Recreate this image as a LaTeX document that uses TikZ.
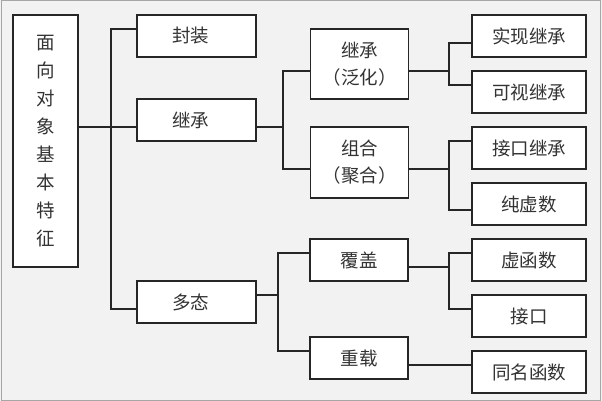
\documentclass[tikz,border=0pt]{standalone}
\usepackage{fontspec}
\newfontfamily\cjk{Noto Sans CJK SC}
\begin{document}
\begin{tikzpicture}[x=1pt,y=-1pt,
  box/.style={draw=black!85, line width=1.3pt, fill=white, inner sep=0pt,
    font=\cjk\fontsize{18.5}{27}\selectfont, align=center, text=black!80},
  wide/.style={box, minimum width=119pt, minimum height=42pt},
  mid/.style={box, minimum width=98pt},
  rgt/.style={box, minimum width=114pt, minimum height=42pt},
  conn/.style={draw=black!85, line width=1.1pt}]
\useasboundingbox (0,0) rectangle (602,401);
\fill[gray!10] (0,0) rectangle (602,401);
\draw[gray!70, line width=1pt] (1.5,1) rectangle (600,400);

\node[box, minimum width=65pt, minimum height=252pt,
  font=\cjk\fontsize{18.5}{28.1}\selectfont] (main) at (45.5,141)
  {面\\向\\对\\象\\基\\本\\特\\征};

\node[wide] (fz) at (196.5,36) {封装\hspace{12pt}};
\node[wide] (jc) at (196.5,120) {继承\hspace{12pt}};
\node[wide] (dt) at (196.5,302) {多态\hspace{12pt}};

\node[mid, minimum height=70pt] (fh) at (359.5,64) {继承\\（泛化）};
\node[mid, minimum height=71pt] (zh) at (359.5,162.5) {组合\\（聚合）};
\node[mid, minimum height=42pt] (fg) at (359,260) {覆盖};
\node[mid, minimum height=42pt] (cz) at (359,358) {重载};

\node[rgt] (r1) at (529,36) {实现继承};
\node[rgt] (r2) at (529,92) {可视继承};
\node[rgt] (r3) at (529,148) {接口继承};
\node[rgt] (r4) at (529,204) {纯虚数};
\node[rgt] (r5) at (529,260) {虚函数};
\node[rgt] (r6) at (529,316) {接口};
\node[rgt] (r7) at (529,372) {同名函数};

\coordinate (k0) at (111,127);
\coordinate (k1) at (111,29);
\coordinate (k2) at (111,309);
\coordinate (m1) at (283,71);
\coordinate (m2) at (283,169);
\coordinate (n1) at (449,43);
\coordinate (n2) at (449,85);
\coordinate (n3) at (449,141);
\coordinate (n4) at (449,210);
\coordinate (p0) at (278,295);
\coordinate (p1) at (278,253);
\coordinate (p2) at (278,351);
\coordinate (q0) at (449,267);
\coordinate (q1) at (449,253);
\coordinate (q2) at (449,309);
\coordinate (s0) at (449,365);

\draw[conn] (main.east |- k0) -- (jc.west |- k0);
\draw[conn] (fz.west |- k1) -- (k1) -- (k2) -- (dt.west |- k2);

\draw[conn] (jc.east |- k0) -- (m1 |- k0);
\draw[conn] (fh.west |- m1) -- (m1) -- (m2) -- (zh.west |- m2);

\draw[conn] (fh.east |- m1) -- (n1 |- m1);
\draw[conn] (r1.west |- n1) -- (n1) -- (n2) -- (r2.west |- n2);
\draw[conn] (zh.east |- m2) -- (n3 |- m2);
\draw[conn] (r3.west |- n3) -- (n3) -- (n4) -- (r4.west |- n4);

\draw[conn] (dt.east |- p0) -- (p0);
\draw[conn] (fg.west |- p1) -- (p1) -- (p2) -- (cz.west |- p2);
\draw[conn] (fg.east |- q0) -- (q0);
\draw[conn] (r5.west |- q1) -- (q1) -- (q2) -- (r6.west |- q2);
\draw[conn] (cz.east |- s0) -- (r7.west |- s0);
\end{tikzpicture}
\end{document}
